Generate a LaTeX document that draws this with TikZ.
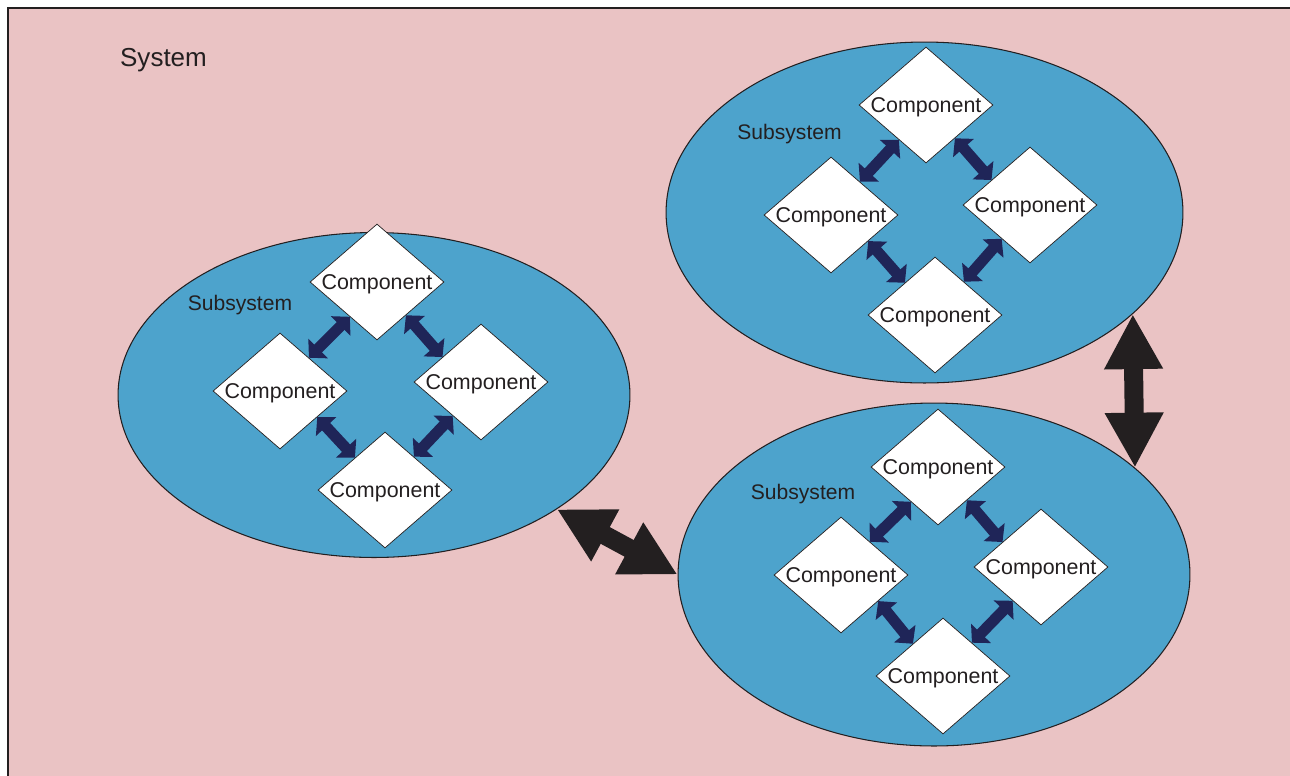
\documentclass[tikz,border=0pt]{standalone}
\usepackage{fontspec}
\setmainfont{Liberation Sans}
\usetikzlibrary{arrows.meta, shapes.geometric, positioning}
\definecolor{SystemPink}{RGB}{234,195,196}
\definecolor{SubBlue}{RGB}{77,163,204}
\definecolor{LinkNavy}{RGB}{31,37,88}
\definecolor{InkGray}{RGB}{35,31,32}
\tikzset{
  subsys/.style={ellipse, draw=InkGray, line width=0.6pt, fill=SubBlue, inner sep=0pt},
  component/.style={diamond, draw=InkGray, line width=0.4pt, fill=white, aspect=1.155, inner sep=0pt,
    minimum width=2.68cm, minimum height=2.32cm, text depth=0pt, text=InkGray, font=\fontsize{12.2}{14}\selectfont},
  tag/.style={text=InkGray, text depth=0pt, font=\fontsize{12}{14}\selectfont},
  link/.style={LinkNavy, line width=0.22cm, {Triangle[width=0.54cm,length=0.26cm]}-{Triangle[width=0.54cm,length=0.26cm]}},
  biglink/.style={InkGray, line width=0.38cm, {Triangle[width=1.1cm,length=1.1cm]}-{Triangle[width=1.1cm,length=1.1cm]}}
}
\begin{document}
\begin{tikzpicture}[x=0.02cm, y=-0.02cm]
\clip (0,0) rectangle (1290,775);
\fill[SystemPink] (8,8) rectangle (1300,790);
\draw[InkGray, line width=1pt] (8,790) -- (8,8) -- (1300,8);
\node[text=InkGray, text depth=0pt, font=\fontsize{14.8}{17}\selectfont] (sys) at (163.5,57) {System};
% subsystems
\node[subsys, minimum width=10.24cm, minimum height=6.5cm] (subL) at (374,395) {};
\node[subsys, minimum width=10.34cm, minimum height=6.82cm] (subT) at (924.5,212.5) {};
\node[subsys, minimum width=10.24cm, minimum height=6.86cm] (subB) at (934,574.5) {};
\node[tag] (subLtag) at (240,303) {Subsystem};
\node[tag] (subTtag) at (789.5,132) {Subsystem};
\node[tag] (subBtag) at (803,492) {Subsystem};
\draw[biglink] (subL.-32.4) -- (subB.180);
\draw[biglink] (subT.-26.9) -- (subB.28.8);
% left subsystem
\node[component] (lN) at (377,282) {Component};
\node[component] (lW) at (280,391) {Component};
\node[component] (lE) at (481,382) {Component};
\node[component] (lS) at (385,490) {Component};
\draw[link] (lN.232) -- (lW.49);
\draw[link] (lN.311) -- (lE.147);
\draw[link] (lW.325) -- (lS.133);
\draw[link] (lS.49) -- (lE.230);
% top subsystem
\node[component] (tN) at (926,105) {Component};
\node[component] (tW) at (831,215) {Component};
\node[component] (tE) at (1030,205) {Component};
\node[component] (tS) at (935,315) {Component};
\draw[link] (tN.232) -- (tW.49);
\draw[link] (tN.311) -- (tE.147);
\draw[link] (tW.325) -- (tS.133);
\draw[link] (tS.49) -- (tE.230);
% bottom subsystem
\node[component] (bN) at (938,467) {Component};
\node[component] (bW) at (841,575) {Component};
\node[component] (bE) at (1041,567) {Component};
\node[component] (bS) at (943,676) {Component};
\draw[link] (bN.232) -- (bW.49);
\draw[link] (bN.311) -- (bE.147);
\draw[link] (bW.325) -- (bS.133);
\draw[link] (bS.49) -- (bE.230);
\end{tikzpicture}
\end{document}
